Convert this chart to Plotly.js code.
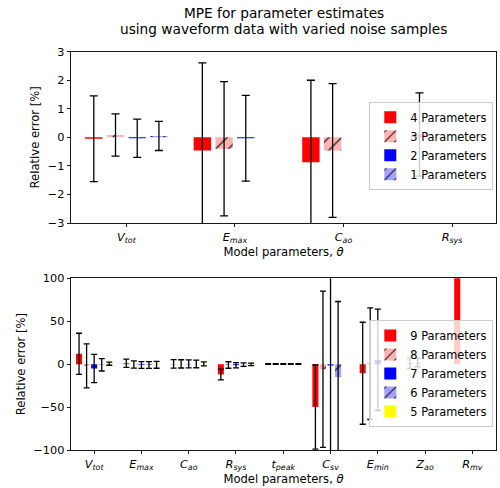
<!DOCTYPE html>
<html>
<head>
<meta charset="utf-8">
<script src="https://cdn.plot.ly/plotly-3.0.1.min.js"></script>
<style>html,body{margin:0;padding:0;background:#fff;}#chart{width:500px;height:488px;}</style>
</head>
<body>
<div id="chart"></div>
<script>
// ---- Top panel: 4-parameter family ----
const topCategories = ["<i>V<sub>tot</sub></i>", "<i>E<sub>max</sub></i>", "<i>C<sub>ao</sub></i>", "<i>R<sub>sys</sub></i>"];
const topSeriesNames = ["4 Parameters", "3 Parameters", "2 Parameters", "1 Parameters"];
const top4P = [-0.05, -0.46, -0.87, 0.10];
const top4PErr = [1.50, 3.07, 2.87, 1.46];
const top3P = [0.08, -0.40, -0.46, null];
const top3PErr = [0.74, 2.35, 2.34, null];
const top2P = [-0.03, -0.03, null, null];
const top2PErr = [0.67, 1.50, null, null];
const top1P = [0.05, null, null, null];
const top1PErr = [0.51, null, null, null];

// ---- Bottom panel: 9-parameter family ----
const botCategories = ["<i>V<sub>tot</sub></i>", "<i>E<sub>max</sub></i>", "<i>C<sub>ao</sub></i>", "<i>R<sub>sys</sub></i>",
  "<i>t<sub>peak</sub></i>", "<i>C<sub>sv</sub></i>", "<i>E<sub>min</sub></i>", "<i>Z<sub>ao</sub></i>", "<i>R<sub>mv</sub></i>"];
const botSeriesNames = ["9 Parameters", "8 Parameters", "7 Parameters", "6 Parameters", "5 Parameters"];
const bot9P = [12, 1, 0.3, -12, 0.3, -50, -10.6, 1, 400];
const bot9PErr = [24, 4.8, 4.9, 6.3, 0.4, 49, 59.4, 6, 200];
const bot8P = [-2, -0.5, 0.3, -1, 0.3, -6, 0.5, 2, null];
const bot8PErr = [25.6, 4.2, 4.8, 3.8, 0.4, 91, 65, 5, null];
const bot7P = [-5, -1, 0.3, -1.3, 0.3, -1.5, 5, null, null];
const bot7PErr = [16.5, 4.0, 4.6, 3.0, 0.4, 140, 59, null, null];
const bot6P = [-0.8, -1, 0.3, -0.5, 0.3, -15, null, null, null];
const bot6PErr = [7.2, 4.0, 4.5, 2.0, 0.4, 88, null, null, null];
const bot5P = [0.5, -0.8, 0.3, -0.3, 0.3, null, null, null, null];
const bot5PErr = [1.8, 4.0, 2.3, 1.5, 0.4, null, null, null, null];

const titleLines = ["MPE for parameter estimates", "using waveform data with varied noise samples"];

const FONT = "DejaVu Sans, Liberation Sans, sans-serif";
const RED = "#ff0000", PINK = "#ffb3b3", BLUE = "#0000ff", LBLUE = "#a3a3ff", YELLOW = "#ffff00";

function idx(arr) { return arr.map((_, i) => i); }

function barTrace(name, x, y, err, color, hatched, xa, ya, legend, capw) {
  const marker = {color: color, line: {width: 0}};
  if (hatched) marker.pattern = {shape: "/", fgcolor: "#000000", bgcolor: color, size: 9, solidity: 0.13, fillmode: "replace"};
  return {
    type: "bar", name: name, x: x, y: y, xaxis: xa, yaxis: ya, legend: legend,
    marker: marker,
    error_y: {type: "data", array: err, visible: true, color: "#000000", thickness: 1.3, width: capw},
    hoverinfo: "skip"
  };
}

const xt = idx(topCategories);
const xb = idx(botCategories);

const data = [
  barTrace(topSeriesNames[0], xt, top4P, top4PErr, RED, false, "x", "y", "legend", 4),
  barTrace(topSeriesNames[1], xt, top3P, top3PErr, PINK, true, "x", "y", "legend", 4),
  barTrace(topSeriesNames[2], xt, top2P, top2PErr, BLUE, false, "x", "y", "legend", 4),
  barTrace(topSeriesNames[3], xt, top1P, top1PErr, LBLUE, true, "x", "y", "legend", 4),
  barTrace(botSeriesNames[0], xb, bot9P, bot9PErr, RED, false, "x2", "y2", "legend2", 3),
  barTrace(botSeriesNames[1], xb, bot8P, bot8PErr, PINK, true, "x2", "y2", "legend2", 3),
  barTrace(botSeriesNames[2], xb, bot7P, bot7PErr, BLUE, false, "x2", "y2", "legend2", 3),
  barTrace(botSeriesNames[3], xb, bot6P, bot6PErr, LBLUE, true, "x2", "y2", "legend2", 3),
  barTrace(botSeriesNames[4], xb, bot5P, bot5PErr, YELLOW, false, "x2", "y2", "legend2", 3)
];

const TICKSIZE = 11.3, LABSIZE = 11.6;
const axisCommon = {
  showline: true, linecolor: "#000000", linewidth: 0.9, mirror: true,
  ticks: "outside", ticklen: 3.5, tickwidth: 0.9, tickcolor: "#000000",
  showgrid: false, zeroline: false,
  tickfont: {family: FONT, size: TICKSIZE, color: "#000000"}
};

const H = 488;
const legendCommon = {
  xref: "paper", yref: "paper", xanchor: "left", yanchor: "top",
  bgcolor: "rgba(255,255,255,0.8)", bordercolor: "#cccccc", borderwidth: 1,
  font: {family: FONT, size: 11.4, color: "#000000"},
  tracegroupgap: 0, itemwidth: 30
};

const layout = {
  width: 500, height: 488,
  margin: {l: 71, r: 4, t: 0, b: 0},
  paper_bgcolor: "#ffffff", plot_bgcolor: "#ffffff",
  font: {family: FONT, color: "#000000"},
  showlegend: true,
  barmode: "group", bargap: 0.2, bargroupgap: 0.2,
  annotations: [
    {text: titleLines[0], xref: "paper", yref: "paper", x: 0.5, y: 1 - 13.5 / H, xanchor: "center", yanchor: "middle",
     showarrow: false, font: {family: FONT, size: 13.7, color: "#000000"}},
    {text: titleLines[1], xref: "paper", yref: "paper", x: 0.5, y: 1 - 28.5 / H, xanchor: "center", yanchor: "middle",
     showarrow: false, font: {family: FONT, size: 13.7, color: "#000000"}}
  ],
  xaxis: Object.assign({}, axisCommon, {
    domain: [0, 1], anchor: "y", range: [-0.51, 3.405],
    tickmode: "array", tickvals: xt, ticktext: topCategories,
    title: {text: "Model parameters, <i>θ</i>", font: {family: FONT, size: LABSIZE}, standoff: 2}
  }),
  yaxis: Object.assign({}, axisCommon, {
    domain: [1 - 223 / H, 1 - 51.7 / H], anchor: "x", range: [-3, 3],
    tickmode: "linear", tick0: -3, dtick: 1,
    title: {text: "Relative error [%]", font: {family: FONT, size: LABSIZE}, standoff: 5}
  }),
  xaxis2: Object.assign({}, axisCommon, {
    domain: [0, 1], anchor: "y2", range: [-0.49, 8.5],
    tickmode: "array", tickvals: xb, ticktext: botCategories,
    title: {text: "Model parameters, <i>θ</i>", font: {family: FONT, size: LABSIZE}, standoff: 2}
  }),
  yaxis2: Object.assign({}, axisCommon, {
    domain: [1 - 450 / H, 1 - 278.3 / H], anchor: "x2", range: [-100, 100],
    tickmode: "linear", tick0: -100, dtick: 50,
    title: {text: "Relative error [%]", font: {family: FONT, size: LABSIZE}, standoff: 5}
  }),
  legend: Object.assign({}, legendCommon, {x: (369.3 - 71) / 425, y: 1 - 101.7 / H}),
  legend2: Object.assign({}, legendCommon, {x: (369.3 - 71) / 425, y: 1 - 320 / H})
};

Plotly.newPlot("chart", data, layout, {displayModeBar: false, staticPlot: true});
</script>
</body>
</html>
